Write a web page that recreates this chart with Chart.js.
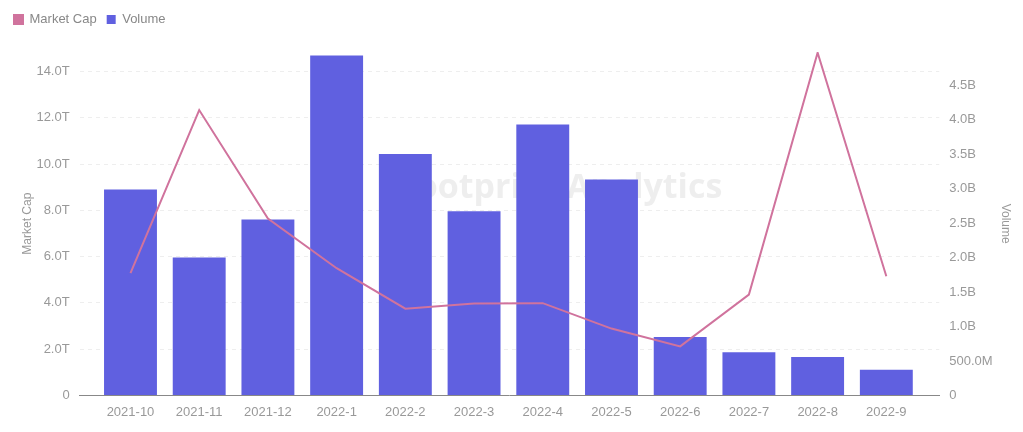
<!DOCTYPE html>
<html>
<head>
<meta charset="utf-8">
<script src="https://cdn.jsdelivr.net/npm/chart.js@4"></script>
<style>
  body { margin: 0; background: #fff; }
  #wrap { width: 1023px; height: 432px; }
</style>
</head>
<body>
<div id="wrap"><canvas id="myChart"></canvas></div>
<script>
const months = ['2021-10', '2021-11', '2021-12', '2022-1', '2022-2', '2022-3',
                '2022-4', '2022-5', '2022-6', '2022-7', '2022-8', '2022-9'];
// market cap, in trillions
const marketCap = [5.29, 12.34, 7.65, 5.50, 3.75, 3.97, 3.99, 2.89, 2.12, 4.36, 14.82, 5.15];
// volume, in billions
const volume = [2.985, 2.0, 2.55, 4.93, 3.50, 2.67, 3.93, 3.13, 0.846, 0.624, 0.556, 0.373];

function fmtT(v) {
    return v == 0 ? '0' : v.toFixed(1) + 'T';
}
function fmtB(v) {
    if (v == 0) return '0';
    if (v >= 1) return v.toFixed(1) + 'B';
    return (v * 1000).toFixed(1) + 'M';
}

const watermark = {
    id: 'watermark',
    beforeDatasetsDraw(chart) {
        const ctx = chart.ctx;
        ctx.save();
        ctx.fillStyle = 'rgba(200,200,200,0.3)';
        ctx.font = 'bold 34px "Open Sans", sans-serif';
        ctx.textBaseline = 'middle';
        ctx.fillText('Footprint Analytics', 398, 188);
        ctx.restore();
    }
};

// extra space under the legend
const legendGap = {
    id: 'legendGap',
    beforeInit(chart) {
        const fit = chart.legend.fit;
        chart.legend.fit = function () {
            fit.bind(this)();
            this.height += 16;
        };
    }
};

var ctx = document.getElementById('myChart').getContext('2d');
Chart.defaults.font.family = '"Liberation Sans", Arial, sans-serif';
Chart.defaults.font.size = 12;
Chart.defaults.color = '#999';

var myChart = new Chart(ctx, {
    data: {
        datasets: [{
            type: 'line',
            label: 'Market Cap',
            data: months.map((m, i) => ({x: i, y: marketCap[i]})),
            borderColor: '#d0739d',
            backgroundColor: '#d0739d',
            borderWidth: 2,
            pointRadius: 0,
            tension: 0,
            yAxisID: 'y',
            order: 0
        }, {
            type: 'bar',
            label: 'Volume',
            data: months.map((m, i) => ({x: i, y: volume[i]})),
            backgroundColor: '#6060e0',
            categoryPercentage: 1,
            barPercentage: 0.77,
            yAxisID: 'y1',
            order: 1
        }]
    },
    options: {
        responsive: true,
        maintainAspectRatio: false,
        animation: false,
        layout: { padding: { left: 4, right: 4, top: 3, bottom: 11 } },
        plugins: {
            legend: {
                align: 'start',
                labels: { boxWidth: 9, boxHeight: 9, color: '#888', font: { size: 13 }, padding: 10 }
            },
            tooltip: { enabled: false }
        },
        scales: {
            x: {
                type: 'linear',
                offset: false,
                min: -0.74,
                max: 11.77,
                grid: { display: false },
                border: { display: true, color: '#888' },
                ticks: {
                    stepSize: 1,
                    includeBounds: false,
                    autoSkip: false,
                    maxRotation: 0,
                    padding: 1,
                    font: { size: 13 },
                    callback: v => (Number.isInteger(v) && months[v]) ? months[v] : ''
                }
            },
            y: {
                position: 'left',
                min: 0,
                max: 14.85,
                title: { display: true, text: 'Market Cap', color: '#999', padding: { top: 16, bottom: -8 } },
                border: { display: false, dash: [4, 4] },
                grid: { color: '#eeeeee', drawTicks: false },
                ticks: { stepSize: 2, includeBounds: false, padding: 10, font: { size: 13 }, callback: fmtT }
            },
            y1: {
                position: 'right',
                min: 0,
                max: 4.98,
                title: { display: true, text: 'Volume', color: '#999', padding: { top: 6, bottom: -4 } },
                border: { display: false },
                grid: { drawOnChartArea: false, drawTicks: false },
                ticks: { stepSize: 0.5, includeBounds: false, padding: 10, font: { size: 13 }, callback: fmtB }
            }
        }
    },
    plugins: [watermark, legendGap]
});
</script>
</body>
</html>
